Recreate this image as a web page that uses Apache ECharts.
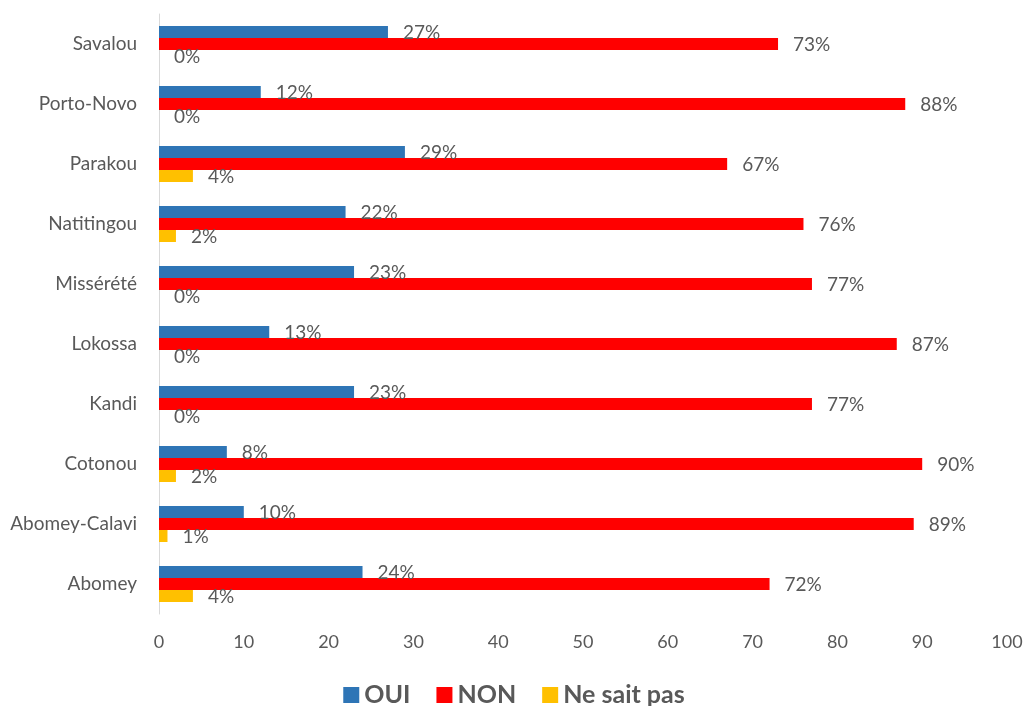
<!DOCTYPE html>
<html>
<head>
<meta charset="utf-8">
<script src="https://cdn.jsdelivr.net/npm/echarts@6/dist/echarts.min.js"></script>
<style>
  html, body { margin: 0; padding: 0; background: #fff; }
  #chart { width: 1028px; height: 706px; }
</style>
</head>
<body>
<div id="chart"></div>
<script>
// Cities, bottom to top
const categories = ['Abomey', 'Abomey-Calavi', 'Cotonou', 'Kandi', 'Lokossa', 'Missérété', 'Natitingou', 'Parakou', 'Porto-Novo', 'Savalou'];
const oui = [24, 10, 8, 23, 13, 23, 22, 29, 12, 27];
const non = [72, 89, 90, 77, 87, 77, 76, 67, 88, 73];
const neSaitPas = [4, 1, 2, 0, 0, 0, 2, 4, 0, 0];
const xTicks = [0, 10, 20, 30, 40, 50, 60, 70, 80, 90, 100];

const FONT = 'Lato';
const GREY = '#595959';

const label = {
  show: true,
  position: 'right',
  distance: 15,
  formatter: p => p.value + '%',
  color: GREY,
  fontFamily: FONT,
  fontSize: 19,
  offset: [0, 1]
};

const chart = echarts.init(document.getElementById('chart'));
chart.setOption({
  animation: false,
  grid: { left: 159, right: 21, top: 14, bottom: 92 },
  legend: {
    top: 677,
    left: 'center',
    itemWidth: 16,
    itemHeight: 16,
    itemGap: 26,
    icon: 'rect',
    textStyle: { color: GREY, fontFamily: FONT, fontSize: 25, fontWeight: 'bold', lineHeight: 26 },
    data: ['OUI', 'NON', 'Ne sait pas']
  },
  xAxis: {
    type: 'value',
    min: xTicks[0],
    max: xTicks[xTicks.length - 1],
    interval: 10,
    axisLine: { show: false },
    axisTick: { show: false },
    splitLine: { show: false },
    axisLabel: { color: GREY, fontFamily: FONT, fontSize: 18, margin: 19 }
  },
  yAxis: {
    type: 'category',
    data: categories,
    axisLine: { show: true, lineStyle: { color: '#D9D9D9', width: 1 } },
    axisTick: { show: false },
    axisLabel: { color: GREY, fontFamily: FONT, fontSize: 19, margin: 22 }
  },
  series: [
    { name: 'OUI', type: 'bar', data: oui, itemStyle: { color: '#2E75B6' }, barGap: '0%', barCategoryGap: '40%', label },
    { name: 'NON', type: 'bar', data: non, itemStyle: { color: '#FF0000' }, label },
    { name: 'Ne sait pas', type: 'bar', data: neSaitPas, itemStyle: { color: '#FFC000' }, label }
  ]
});
</script>
</body>
</html>
